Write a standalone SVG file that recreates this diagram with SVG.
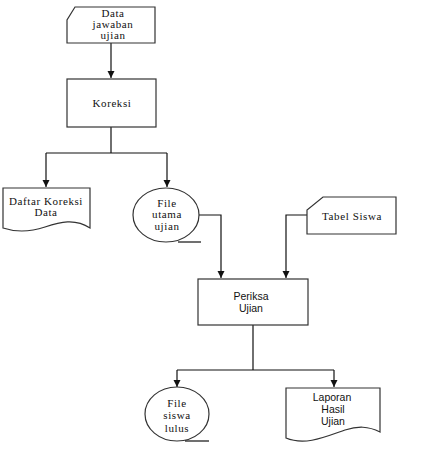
<svg xmlns="http://www.w3.org/2000/svg" width="440" height="454" viewBox="0 0 440 454">
<defs>
<marker id="arr" markerWidth="8" markerHeight="8" refX="7" refY="4" orient="auto" markerUnits="userSpaceOnUse">
<path d="M0,0.5 L7,4 L0,7.5 Z" fill="#111"/>
</marker>
</defs>
<style>
.shape{fill:#fff;stroke:#333;stroke-width:1.2}
.line{fill:none;stroke:#111;stroke-width:1.2}
.serif{font-family:"Liberation Serif","Times New Roman",serif;font-size:11px;letter-spacing:0.6px;fill:#111;text-anchor:middle}
.sans{font-family:"Liberation Sans",Arial,sans-serif;font-size:10.5px;fill:#111;text-anchor:middle}
</style>
<rect width="440" height="454" fill="#fff"/>
<g id="connectors">
<path class="line" d="M111,43 V78" marker-end="url(#arr)"/>
<path class="line" d="M111,127 V153 M46,153 H167"/>
<path class="line" d="M46,153 V187" marker-end="url(#arr)"/>
<path class="line" d="M167,153 V187" marker-end="url(#arr)"/>
<path class="line" d="M199,215 H221 V278" marker-end="url(#arr)"/>
<path class="line" d="M307,215 H286 V278" marker-end="url(#arr)"/>
<path class="line" d="M253,325 V370 M177,370 H334"/>
<path class="line" d="M177,370 V387" marker-end="url(#arr)"/>
<path class="line" d="M334,370 V387" marker-end="url(#arr)"/>
</g>
<g id="data-jawaban-ujian">
<path class="shape" d="M75,7 H155 V43 H67 V20 Z"/>
<text class="serif" x="113" y="17">Data</text>
<text class="serif" x="113" y="28">jawaban</text>
<text class="serif" x="113" y="39">ujian</text>
</g>
<g id="koreksi">
<rect class="shape" x="67" y="79" width="89" height="48"/>
<text class="serif" x="112" y="107">Koreksi</text>
</g>
<g id="daftar-koreksi-data">
<path class="shape" d="M3,188 H90 V228 C75,218 60,222 45,227 C30,232 15,232 3,228 Z"/>
<text class="serif" x="46" y="205">Daftar Koreksi</text>
<text class="serif" x="46" y="216">Data</text>
</g>
<g id="file-utama-ujian">
<ellipse class="shape" cx="166" cy="215" rx="33" ry="27"/>
<path class="line" d="M178,242 H201"/>
<text class="serif" x="167" y="207">File</text>
<text class="serif" x="167" y="218">utama</text>
<text class="serif" x="167" y="230">ujian</text>
</g>
<g id="tabel-siswa">
<path class="shape" d="M323,197 H396 V234 H307 V210 Z"/>
<text class="serif" x="352" y="220">Tabel Siswa</text>
</g>
<g id="periksa-ujian">
<rect class="shape" x="198" y="279" width="110" height="46"/>
<text class="sans" x="251" y="300">Periksa</text>
<text class="sans" x="251" y="312">Ujian</text>
</g>
<g id="file-siswa-lulus">
<ellipse class="shape" cx="177" cy="414" rx="32" ry="27"/>
<path class="line" d="M185,441 H209"/>
<text class="serif" x="177" y="407">File</text>
<text class="serif" x="177" y="419">siswa</text>
<text class="serif" x="177" y="432">lulus</text>
</g>
<g id="laporan-hasil-ujian">
<path class="shape" d="M286,388 H380 V432 C368,426 358,426 345,430 C325,437 305,446 286,438 Z"/>
<text class="sans" x="332" y="401">Laporan</text>
<text class="sans" x="333" y="413">Hasil</text>
<text class="sans" x="333" y="425">Ujian</text>
</g>
</svg>
